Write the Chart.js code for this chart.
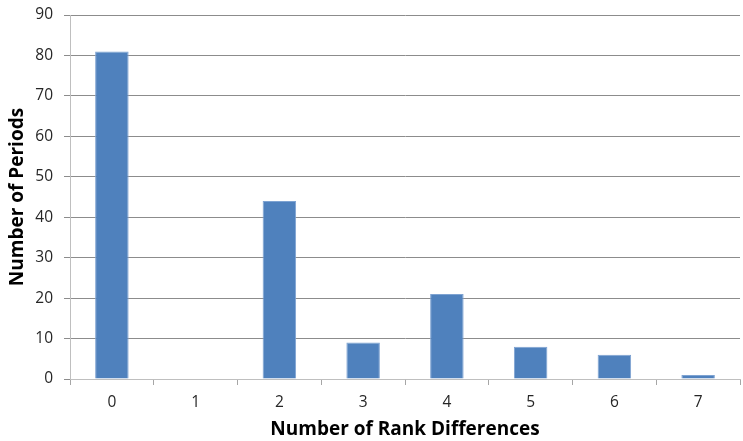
<!DOCTYPE html>
<html>
<head>
<meta charset="utf-8">
<script src="https://cdn.jsdelivr.net/npm/chart.js@4.4.1/dist/chart.umd.min.js"></script>
<style>
  html, body { margin: 0; padding: 0; background: #fff; }
  #wrap { width: 743px; height: 441px; }
</style>
</head>
<body>
<div id="wrap"><canvas id="rankChart" width="743" height="441"></canvas></div>
<script>
const rankDiffs = ['0', '1', '2', '3', '4', '5', '6', '7'];
const periodCounts = [81, 0, 44, 9, 21, 8, 6, 1];
const yTicks = [0, 10, 20, 30, 40, 50, 60, 70, 80, 90];

const tickFont = { family: "'Open Sans', 'Liberation Sans', sans-serif", size: 15.5 };
const titleFont = { family: "'Open Sans', 'Liberation Sans', sans-serif", size: 19, weight: 'bold' };

function rankChart() {
  let ctx = document.querySelector('#rankChart').getContext('2d');
  new Chart(ctx, {
    type: 'bar',
    data: {
      labels: rankDiffs,
      datasets: [{
        data: periodCounts,
        backgroundColor: '#4f81bd',
        borderColor: '#7ea3d2',
        borderWidth: 1,
        categoryPercentage: 0.8,
        barPercentage: 0.5
      }]
    },
    options: {
      responsive: false,
      animation: false,
      layout: { padding: { top: 15, right: 3, left: 0, bottom: 0 } },
      plugins: { legend: { display: false }, tooltip: { enabled: false } },
      scales: {
        x: {
          offset: true,
          grid: {
            offset: true,
            drawOnChartArea: false,
            drawTicks: true,
            tickLength: 6,
            color: '#a6a6a6'
          },
          border: { color: '#bfbfbf', width: 1 },
          ticks: { color: '#262626', font: tickFont, padding: 8 },
          title: {
            display: true,
            text: 'Number of Rank Differences',
            color: '#000',
            font: titleFont,
            padding: { top: 4, bottom: 0 }
          },
          afterFit: function (scale) { scale.height = 62; }
        },
        y: {
          min: 0,
          max: 90,
          afterBuildTicks: function (scale) {
            scale.ticks = yTicks.map(v => ({ value: v }));
          },
          grid: {
            color: '#8c8c8c',
            drawTicks: true,
            tickLength: 6,
            lineWidth: 1
          },
          border: { color: '#bfbfbf', width: 1 },
          ticks: { color: '#262626', font: tickFont, padding: 11 },
          title: {
            display: true,
            text: 'Number of Periods',
            color: '#000',
            font: titleFont,
            padding: { top: 6, bottom: 4 }
          },
          afterFit: function (scale) {
            // the plot area is placed by layout padding alone
            scale.width = 70;
            scale.paddingTop = 0;
            scale.paddingBottom = 0;
          }
        }
      }
    }
  });
}
rankChart();
</script>
</body>
</html>
